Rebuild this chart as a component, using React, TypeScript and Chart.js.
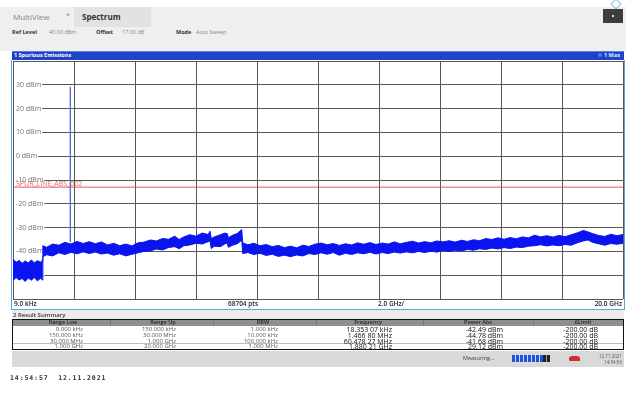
import React, { useEffect, useRef } from 'react';
import { Chart, registerables } from 'chart.js';

Chart.register(...registerables);

// ---- axis definition ----
const xMinGHz = 0;
const xMaxGHz = 20;
const xStepGHz = 2;
const yMinDbm = -60;
const yMaxDbm = 40;
const yStepDb = 10;
const yTickValues = [30, 20, 10, 0, -10, -20, -30, -40, -50];
const yTickLabels = ['30 dBm', '20 dBm', '10 dBm', '0 dBm', '-10 dBm', '-20 dBm', '-30 dBm', '-40 dBm', '-50 dBm'];

// ---- trace (max hold envelope) ----
const traceFreqGHz = [
  0.00, 0.10, 0.20, 0.30, 0.40, 0.50, 0.60, 0.70, 0.80, 0.90, 0.96,
  0.98, 1.1, 1.3, 1.5, 1.7, 1.9, 2.1, 2.3, 2.5, 2.7,
  2.9, 3.1, 3.3, 3.5, 3.7, 3.9, 4.1, 4.3, 4.5, 4.7,
  4.9, 5.1, 5.3, 5.45, 5.6, 5.8, 6.0, 6.2, 6.4, 6.46,
  6.5, 6.6, 6.8, 6.95, 7.03, 7.06, 7.2, 7.35, 7.5, 7.53,
  7.7, 7.9, 8.1, 8.3, 8.5, 8.7, 8.9, 9.1, 9.3, 9.5,
  9.7, 9.9, 10.1, 10.3, 10.5, 10.7, 10.9, 11.1, 11.3, 11.5,
  11.7, 11.9, 12.1, 12.3, 12.5, 12.7, 12.9, 13.1, 13.3, 13.5,
  13.7, 13.9, 14.1, 14.3, 14.5, 14.7, 14.9, 15.1, 15.3, 15.5,
  15.7, 15.9, 16.1, 16.3, 16.5, 16.7, 16.9, 17.1, 17.3, 17.5,
  17.7, 17.9, 18.1, 18.3, 18.5, 18.7, 18.85, 19.0, 19.2, 19.4,
  19.6, 19.8, 20.0,
];
const traceUpperDbm = [
  -43.2, -44.6, -43.8, -45.0, -44.0, -44.9, -43.6, -44.8, -43.9, -44.5, -43.8,
  -37.6, -38.3, -36.9, -37.4, -36.2, -36.9, -35.8, -36.7, -35.9, -36.8,
  -36.0, -37.3, -36.6, -37.6, -36.9, -37.7, -36.4, -36.1, -35.2, -35.6,
  -34.6, -34.9, -33.6, -35.0, -33.9, -33.0, -33.6, -32.3, -32.9, -31.5,
  -34.6, -33.9, -33.0, -32.3, -32.6, -34.3, -33.2, -32.5, -30.8, -36.4,
  -37.2, -36.6, -37.6, -37.1, -38.0, -37.5, -38.4, -37.8, -38.5, -37.4,
  -37.9, -37.0, -36.5, -37.2, -36.7, -37.5, -36.8, -37.3, -36.4, -37.0,
  -36.3, -37.1, -36.5, -36.9, -36.0, -36.8, -36.2, -35.7, -36.5, -35.9,
  -36.4, -35.6, -36.0, -35.5, -36.1, -35.3, -35.8, -35.1, -35.5, -34.6,
  -35.0, -34.3, -34.9, -34.2, -34.7, -33.9, -34.3, -33.2, -33.9, -33.4,
  -34.0, -33.3, -33.8, -33.0, -32.2, -31.2, -31.8, -32.5, -33.3, -33.7,
  -32.8, -33.4, -32.9,
];
const traceLowerDbm = [
  -52.3, -51.0, -52.0, -51.4, -52.6, -51.2, -52.1, -51.0, -52.4, -51.3, -52.0,
  -42.2, -41.4, -41.9, -40.6, -41.3, -40.4, -41.0, -40.2, -40.9, -40.3,
  -41.1, -40.7, -41.6, -41.0, -41.9, -41.2, -40.6, -40.0, -39.8, -39.0,
  -39.4, -38.4, -38.0, -38.9, -37.6, -37.3, -36.6, -36.9, -35.9, -35.6,
  -38.8, -37.8, -38.0, -36.8, -36.6, -38.3, -37.4, -36.8, -35.3, -40.9,
  -40.5, -41.3, -40.8, -41.7, -41.2, -42.1, -41.6, -42.2, -41.5, -41.9,
  -40.9, -41.3, -40.6, -41.2, -40.5, -41.6, -40.8, -41.3, -40.6, -41.0,
  -40.4, -41.1, -40.5, -40.9, -40.3, -40.7, -40.2, -40.6, -40.0, -40.5,
  -39.9, -40.3, -39.6, -40.0, -39.5, -39.8, -39.2, -39.5, -38.9, -39.2,
  -38.6, -39.0, -38.4, -38.8, -38.2, -38.4, -37.8, -37.6, -37.2, -37.7,
  -37.3, -37.6, -37.1, -37.4, -36.4, -35.6, -35.2, -36.2, -36.8, -37.4,
  -36.7, -37.0, -36.6,
];

// ---- peak spike and limit line ----
const spikeFreqGHz = [1.8802, 1.8802];
const spikeLevelDbm = [29.12, -36];
const limitFreqGHz = [0, 20];
const limitLevelDbm = [-13, -13];
const limitName = 'SPUR_LINE_ABS_002';

// ---- result summary table ----
const headerLabels = ['Range Low', 'Range Up', 'RBW', 'Frequency', 'Power Abs', '\u0394Limit'];
const rangeLow = ['9.000 kHz', '150.000 kHz', '30.000 MHz', '1.000 GHz'];
const rangeUp = ['150.000 kHz', '30.000 MHz', '1.000 GHz', '20.000 GHz'];
const rbw = ['1.000 kHz', '10.000 kHz', '100.000 kHz', '1.000 MHz'];
const peakFreq = ['18.353 07 kHz', '1.466 80 MHz', '60.478 27 MHz', '1.880 21 GHz'];
const powerAbs = ['-42.49 dBm', '-44.78 dBm', '-41.68 dBm', '29.12 dBm'];
const deltaLimit = ['-200.00 dB', '-200.00 dB', '-200.00 dB', '-200.00 dB'];

const FONT = '"Open Sans", "Noto Sans", sans-serif';
const W = 626;

type TP = {
  x: number; y: number; children: React.ReactNode; size?: number; color?: string;
  weight?: number | string; align?: 'left' | 'right' | 'center'; family?: string; spacing?: number;
};
function T({ x, y, children, size = 6, color = '#333', weight = 400, align = 'left', family = FONT, spacing = 0 }: TP) {
  const style: React.CSSProperties = {
    position: 'absolute', top: y, lineHeight: 1, whiteSpace: 'nowrap', fontSize: size,
    color, fontWeight: weight as any, fontFamily: family, letterSpacing: spacing,
  };
  if (align === 'left') { style.left = x; style.transform = 'translateY(-50%)'; }
  else if (align === 'right') { style.right = W - x; style.transform = 'translateY(-50%)'; }
  else { style.left = x; style.transform = 'translate(-50%,-50%)'; }
  return <div style={style}>{children}</div>;
}

const labelPlugin = {
  id: 'specLabels',
  beforeDatasetsDraw(chart: any) {
    const { ctx, chartArea, scales } = chart;
    const y = scales.y;
    ctx.save();
    ctx.font = `7px ${FONT}`;
    ctx.textBaseline = 'middle';
    ctx.textAlign = 'left';
    yTickValues.forEach((v, i) => {
      const py = y.getPixelForValue(v);
      const label = yTickLabels[i];
      const w = ctx.measureText(label).width;
      ctx.fillStyle = '#ffffff';
      ctx.fillRect(chartArea.left + 1, py - 3, w + 3, 6);
      ctx.fillStyle = '#707070';
      ctx.fillText(label, chartArea.left + 3, py);
    });
    ctx.fillStyle = 'rgba(220,50,50,0.75)';
    ctx.fillText(limitName, chartArea.left + 3, y.getPixelForValue(limitLevelDbm[0]) - 3.5);
    ctx.restore();
  },
};

function SpectrumChart() {
  const ref = useRef<HTMLCanvasElement | null>(null);
  useEffect(() => {
    if (!ref.current) return;
    const pts = (xs: number[], ys: number[]) => xs.map((x, i) => ({ x, y: ys[i] }));
    const blue = '#0a14f0';
    const chart = new Chart(ref.current, {
      type: 'line',
      data: {
        datasets: [
          {
            data: pts(limitFreqGHz, limitLevelDbm), borderColor: 'rgba(225,70,70,0.9)', borderWidth: 1,
            pointRadius: 0, fill: false,
          },
          {
            data: pts(spikeFreqGHz, spikeLevelDbm), borderColor: '#5a70d4', borderWidth: 1,
            pointRadius: 0, fill: false,
          },
          {
            data: pts(traceFreqGHz, traceUpperDbm), borderColor: blue, backgroundColor: blue,
            borderWidth: 1, pointRadius: 0, fill: '+1', tension: 0,
          },
          {
            data: pts(traceFreqGHz, traceLowerDbm), borderColor: blue, borderWidth: 1,
            pointRadius: 0, fill: false, tension: 0,
          },
        ],
      },
      options: {
        animation: false,
        responsive: false,
        maintainAspectRatio: false,
        layout: { padding: { left: 1, right: 1, top: 3, bottom: 3 } },
        plugins: { legend: { display: false }, tooltip: { enabled: false } },
        scales: {
          x: {
            type: 'linear', min: xMinGHz, max: xMaxGHz,
            ticks: { display: false, stepSize: xStepGHz },
            grid: { color: '#555555', lineWidth: 1, drawTicks: false },
            border: { display: false },
          },
          y: {
            type: 'linear', min: yMinDbm, max: yMaxDbm,
            ticks: { display: false, stepSize: yStepDb },
            grid: { color: '#555555', lineWidth: 1, drawTicks: false },
            border: { display: false },
          },
        },
      },
      plugins: [labelPlugin],
    } as any);
    return () => chart.destroy();
  }, []);
  return (
    <canvas ref={ref} width={612} height={244}
      style={{ position: 'absolute', left: 12, top: 58, width: 612, height: 244 }} />
  );
}

const colRight = [83, 176, 278, 392, 503, 598];
const colCenter = [63, 163, 263, 368, 478, 583];
const rowY = [328.5, 334.5, 340.5, 346];

export default function App() {
  useEffect(() => { document.body.style.margin = '0'; }, []);
  const leftCols = [rangeLow, rangeUp, rbw];
  const rightCols = [peakFreq, powerAbs, deltaLimit];
  return (
    <div style={{ position: 'absolute', left: 0, top: 0, width: 626, height: 410, background: '#fff', overflow: 'hidden', fontFamily: FONT }}>
      {/* top bar */}
      <div style={{ position: 'absolute', left: 0, top: 7, width: 626, height: 44, background: '#efefef' }} />
      <div style={{ position: 'absolute', left: 74, top: 7, width: 77, height: 20, background: '#e2e2e2' }} />
      <div style={{ position: 'absolute', left: 612, top: 0, width: 6, height: 6, border: '1px solid #7fc3e6', transform: 'rotate(45deg)', borderRadius: 1 }} />
      <div style={{ position: 'absolute', left: 603, top: 9, width: 20, height: 14, background: '#3d3d3d' }} />
      <div style={{ position: 'absolute', left: 612, top: 15, width: 2, height: 2, background: '#ddd' }} />
      <T x={13} y={17} size={8} color="#7b8794">MultiView</T>
      <T x={66} y={15} size={7} color="#2aaeb0">*</T>
      <T x={82} y={17} size={8} color="#333" weight={700}>Spectrum</T>
      <T x={12} y={33} size={5.5} color="#333" weight={700}>Ref Level</T>
      <T x={49} y={33} size={5.5} color="#888">40.00 dBm</T>
      <T x={96} y={33} size={5.5} color="#333" weight={700}>Offset</T>
      <T x={122} y={33} size={5.5} color="#888">17.00 dB</T>
      <T x={176} y={33} size={5.5} color="#333" weight={700}>Mode</T>
      <T x={196} y={33} size={5.5} color="#888">Auto Sweep</T>

      {/* title bar */}
      <div style={{ position: 'absolute', left: 12, top: 51, width: 612, height: 9, background: '#1f43c6', borderTop: '1px solid #5f7fe0', boxSizing: 'border-box' }} />
      <T x={14} y={55.5} size={5.5} color="#fff" weight={700}>1 Spurious Emissions</T>
      <div style={{ position: 'absolute', left: 598, top: 53, width: 4, height: 4, borderRadius: 3, background: '#4d78ff' }} />
      <T x={604} y={55.5} size={5.5} color="#dfe6ff" weight={700}>1 Max</T>

      {/* plot frame */}
      <div style={{ position: 'absolute', left: 11, top: 60, width: 1, height: 250, background: '#58a8dc' }} />
      <div style={{ position: 'absolute', left: 624, top: 60, width: 1, height: 250, background: '#58a8dc' }} />
      <SpectrumChart />
      <T x={14} y={304} size={6.5} color="#222" weight={600}>9.0 kHz</T>
      <T x={228} y={304} size={6.5} color="#222" weight={600}>68704 pts</T>
      <T x={378} y={304} size={6.5} color="#222" weight={600}>2.0 GHz/</T>
      <T x={622} y={304} size={6.5} color="#222" weight={600} align="right">20.0 GHz</T>
      <div style={{ position: 'absolute', left: 11, top: 309, width: 614, height: 1, background: '#58a8dc' }} />

      {/* result summary */}
      <div style={{ position: 'absolute', left: 12, top: 310, width: 612, height: 9, background: '#ececec' }} />
      <T x={13} y={314.5} size={6} color="#333" weight={600}>2 Result Summary</T>
      <div style={{ position: 'absolute', left: 12, top: 319, width: 612, height: 31, border: '1px solid #111', boxSizing: 'border-box', background: '#fff' }} />
      <div style={{ position: 'absolute', left: 13, top: 320, width: 610, height: 6, background: '#8f8f8f' }} />
      {[110, 213, 316, 423, 533].map((x) => (
        <div key={x} style={{ position: 'absolute', left: x, top: 320, width: 1, height: 6, background: '#777' }} />
      ))}
      <div style={{ position: 'absolute', left: 13, top: 343, width: 610, height: 1, background: '#bdbdbd' }} />
      {headerLabels.map((h, i) => (
        <T key={h} x={colCenter[i]} y={323} size={5.5} color="#222" align="center" weight={600}>{h}</T>
      ))}
      {leftCols.map((col, c) => col.map((v, r) => (
        <T key={`l${c}${r}`} x={colRight[c]} y={rowY[r]} size={6} color="#555" align="right">{v}</T>
      )))}
      {rightCols.map((col, c) => col.map((v, r) => (
        <T key={`r${c}${r}`} x={colRight[c + 3]} y={rowY[r]} size={7} color="#111" align="right">{v}</T>
      )))}

      {/* status bar */}
      <div style={{ position: 'absolute', left: 12, top: 351, width: 612, height: 16, background: '#d9d9d9' }} />
      <T x={463} y={359} size={5.5} color="#444">Measuring...</T>
      <div style={{ position: 'absolute', left: 512, top: 355, width: 31, height: 7, background: 'repeating-linear-gradient(to right, #2450d8 0px, #2450d8 3px, #c9d6f5 3px, #c9d6f5 4px)' }} />
      <div style={{ position: 'absolute', left: 543, top: 355, width: 7, height: 7, background: 'repeating-linear-gradient(to right, #222 0px, #222 3px, #999 3px, #999 4px)' }} />
      <div style={{ position: 'absolute', left: 569, top: 356, width: 11, height: 5, background: '#d42a2a', borderRadius: '3px 3px 1px 1px' }} />
      <T x={622} y={355.5} size={4.5} color="#555" align="right">12.11.2021</T>
      <T x={622} y={361.5} size={4.5} color="#555" align="right">14:54:56</T>

      {/* timestamp */}
      <T x={10} y={378} size={6.5} color="#333" weight={700} spacing={0.9} family={'"DejaVu Sans Mono", monospace'}>14:54:57&nbsp;&nbsp;12.11.2021</T>
    </div>
  );
}
